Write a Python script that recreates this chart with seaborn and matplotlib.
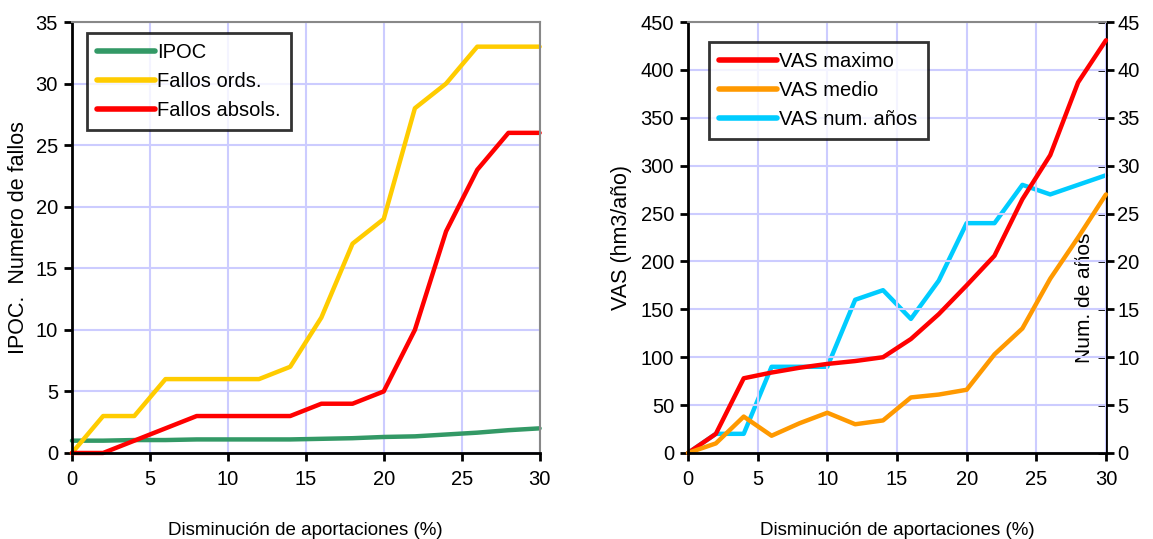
import matplotlib
matplotlib.use("Agg")
import matplotlib.pyplot as plt
import seaborn as sns
import pandas as pd
import numpy as np

x = [0, 2, 4, 6, 8, 10, 12, 14, 16, 18, 20, 22, 24, 26, 28, 30]
ipoc = [1.0, 1.0, 1.05, 1.05, 1.1, 1.1, 1.1, 1.1, 1.15, 1.2, 1.3, 1.35, 1.5, 1.65, 1.85, 2.0]
fallos_ords = [0, 3, 3, 6, 6, 6, 6, 7, 11, 17, 19, 28, 30, 33, 33, 33]
fallos_absols = [0, 0, 1, 2, 3, 3, 3, 3, 4, 4, 5, 10, 18, 23, 26, 26]

vas_max = [0, 20, 78, 84, 89, 93, 96, 100, 119, 145, 175, 206, 265, 311, 387, 431]
vas_medio = [0, 10, 38, 18, 31, 42, 30, 34, 58, 61, 66, 103, 130, 182, 225, 270]
vas_anos = [0, 2, 2, 9, 9, 9, 16, 17, 14, 18, 24, 24, 28, 27, 28, 29]

sns.set_style("white")
plt.rcParams['font.family'] = ['Liberation Sans', 'DejaVu Sans']
for k in ['text.color', 'axes.labelcolor', 'xtick.color', 'ytick.color']:
    plt.rcParams[k] = 'black'
FS = 14.5
LFS = 14.5

fig = plt.figure(figsize=(11.53, 5.39), dpi=100)
ax1 = fig.add_axes([0.0624, 0.1596, 0.4056, 0.7995])
ax2 = fig.add_axes([0.5967, 0.1596, 0.3625, 0.7995])

grid_c = '#ccccff'
LW = 3.2

def style(ax):
    ax.grid(True, color=grid_c, lw=1.5)
    ax.set_axisbelow(True)
    ax.set_xlim(0, 30)
    ax.set_xticks(range(0, 31, 5))
    for s in ['top', 'right']:
        ax.spines[s].set_color('#888888')
        ax.spines[s].set_linewidth(1.5)
    for s in ['left', 'bottom']:
        ax.spines[s].set_color('black')
        ax.spines[s].set_linewidth(2)
    ax.tick_params(axis='both', direction='out', length=6, width=2, color='black',
                   labelsize=FS, bottom=True, left=True, pad=4)
    ax.tick_params(axis='x', pad=6)
    ax.set_xlabel('Disminución de aportaciones (%)', fontsize=13.5, labelpad=24)

leg_kw = dict(loc='upper left', fontsize=LFS, frameon=True, fancybox=False, edgecolor='black',
              handlelength=2.9, handletextpad=0.1, borderpad=0.5, labelspacing=0.5,
              borderaxespad=0)

# Left chart
d1 = pd.DataFrame({'x': x, 'IPOC': ipoc, 'Fallos ords.': fallos_ords, 'Fallos absols.': fallos_absols})
cols1 = {'IPOC': '#339966', 'Fallos ords.': '#ffcc00', 'Fallos absols.': '#ff0000'}
for name, c in cols1.items():
    sns.lineplot(data=d1, x='x', y=name, ax=ax1, color=c, lw=LW, label=name, clip_on=False)
ax1.set_ylim(0, 35)
ax1.set_yticks(range(0, 36, 5))
style(ax1)
ax1.set_ylabel('IPOC.  Numero de fallos', fontsize=15.5, labelpad=5)
leg1 = ax1.legend(bbox_to_anchor=(0.032, 0.975), **leg_kw)
leg1.get_frame().set_linewidth(2)
for l in leg1.get_lines():
    l.set_linewidth(4)

# Right chart
d2 = pd.DataFrame({'x': x, 'VAS maximo': vas_max, 'VAS medio': vas_medio, 'VAS num. años': vas_anos})
ax3 = ax2.twinx()
sns.lineplot(data=d2, x='x', y='VAS maximo', ax=ax2, color='#ff0000', lw=LW, label='VAS maximo', clip_on=False)
sns.lineplot(data=d2, x='x', y='VAS medio', ax=ax2, color='#ff9900', lw=LW, label='VAS medio', clip_on=False)
sns.lineplot(data=d2, x='x', y='VAS num. años', ax=ax3, color='#00ccff', lw=LW, label='VAS num. años', clip_on=False)
ax2.set_ylim(0, 450)
ax2.set_yticks(range(0, 451, 50))
style(ax2)
ax2.set_ylabel('VAS (hm3/año)', fontsize=15.5, labelpad=6)
ax3.set_ylim(0, 45)
ax3.set_yticks(range(0, 46, 5))
ax3.set_xlim(0, 30)
ax3.spines['right'].set_color('black')
ax3.spines['right'].set_linewidth(2)
ax3.spines['top'].set_visible(False)
ax3.spines['left'].set_visible(False)
ax3.spines['bottom'].set_visible(False)
ax3.tick_params(axis='y', direction='inout', length=12, width=2, labelsize=FS, right=True, pad=2)
ax3.set_ylabel('Num. de años', fontsize=15)
ax3.yaxis.set_label_coords(0.926, 0.36)
ax2.spines['right'].set_visible(False)

h2, l2 = ax2.get_legend_handles_labels()
h3, l3 = ax3.get_legend_handles_labels()
if ax3.get_legend():
    ax3.get_legend().remove()
leg2 = ax2.legend(h2 + h3, l2 + l3, bbox_to_anchor=(0.05, 0.954), **leg_kw)
leg2.get_frame().set_linewidth(2)
for l in leg2.get_lines():
    l.set_linewidth(4)
ax2.set_zorder(ax3.get_zorder() + 1)
ax2.patch.set_visible(False)

fig.savefig('out.png', dpi=100)
